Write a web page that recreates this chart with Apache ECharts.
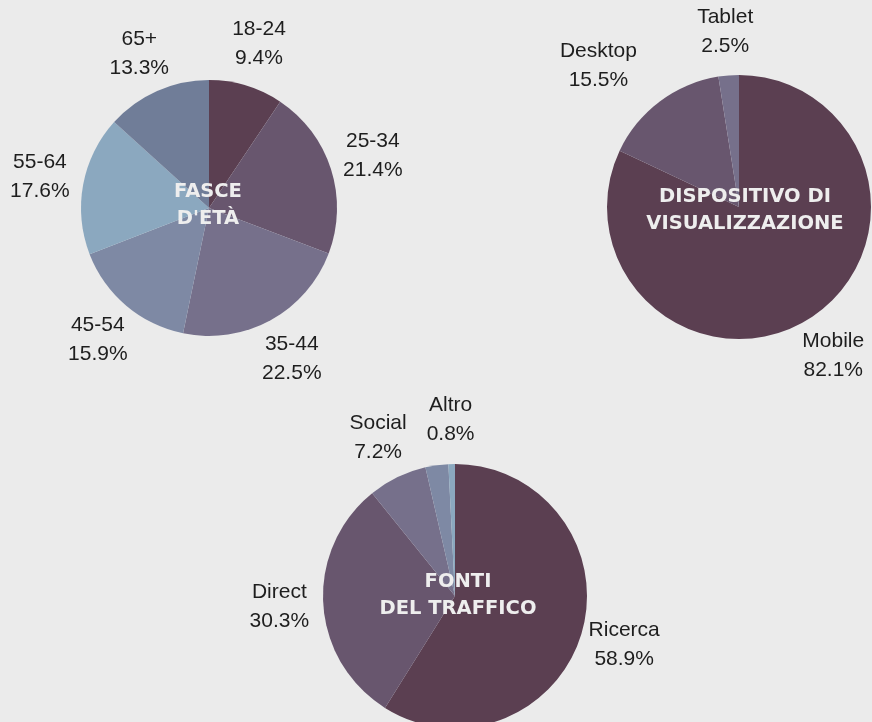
<!DOCTYPE html>
<html lang="it" style="height: 100%">
<head>
  <meta charset="utf-8">
</head>
<body style="height: 100%; margin: 0; background: #ebebeb">
  <div id="container" style="width: 872px; height: 722px"></div>

  <script type="text/javascript" src="https://fastly.jsdelivr.net/npm/echarts@6.0.0/dist/echarts.min.js"></script>
  <script type="text/javascript">
    // fasce d'età
    const ageNames = ['18-24', '25-34', '35-44', '45-54', '55-64', '65+'];
    const ageValues = [9.4, 21.4, 22.5, 15.9, 17.6, 13.3];
    // dispositivo
    const deviceNames = ['Mobile', 'Desktop', 'Tablet'];
    const deviceValues = [82.1, 15.5, 2.5];
    // fonti del traffico (la fetta senza etichetta non ha nome)
    const trafficNames = ['Ricerca', 'Direct', 'Social', '', 'Altro'];
    const trafficValues = [58.9, 30.3, 7.2, 2.8, 0.8];

    const palette = ['#5b3f51', '#68566e', '#76708b', '#7e89a4', '#8ba8bf', '#707d98'];

    // spostamento manuale di qualche etichetta
    const labelShift = { Desktop: [-35, 0], '65+': [0, 3] };

    function buildData(names, values) {
      return names.map(function (n, i) {
        return {
          name: n,
          value: values[i],
          itemStyle: { color: palette[i] },
          label: { show: n !== '' },
          labelLine: { show: n !== '' }
        };
      });
    }

    function pieSeries(names, values, center, radius) {
      return {
        type: 'pie',
        center: center,
        radius: radius,
        startAngle: 90,
        clockwise: true,
        avoidLabelOverlap: false,
        silent: true,
        data: buildData(names, values),
        label: {
          position: 'outside',
          formatter: '{b}\n{c}%',
          fontFamily: 'Liberation Sans, Arial, sans-serif',
          fontSize: 21,
          lineHeight: 29,
          color: '#1e1e1e'
        },
        labelLine: {
          show: true,
          length: 44,
          length2: 0,
          lineStyle: { opacity: 0 }
        },
        labelLayout: function (params) {
          const pts = params.labelLinePoints;
          if (!pts) return {};
          const p = pts[1];
          const name = (params.text || '').split('\n')[0];
          const s = labelShift[name] || [0, 0];
          return {
            x: p[0] + s[0],
            y: p[1] + s[1],
            align: 'center',
            verticalAlign: 'middle'
          };
        }
      };
    }

    const centerFont = {
      fontFamily: 'DejaVu Sans, sans-serif',
      fontWeight: 'bold',
      fontSize: 19.5,
      lineHeight: 27,
      fill: '#eeeeee',
      textAlign: 'center',
      textVerticalAlign: 'middle'
    };

    var dom = document.getElementById('container');
    var myChart = echarts.init(dom, null, { renderer: 'canvas' });

    var option = {
      backgroundColor: '#ebebeb',
      animation: false,
      series: [
        pieSeries(ageNames, ageValues, [209, 208], 128),
        pieSeries(deviceNames, deviceValues, [739, 207], 132),
        pieSeries(trafficNames, trafficValues, [455, 596], 132)
      ],
      graphic: [
        { type: 'text', x: 208, y: 205, z: 100,
          style: Object.assign({ text: 'FASCE\nD\'ETÀ' }, centerFont) },
        { type: 'text', x: 745, y: 210, z: 100,
          style: Object.assign({ text: 'DISPOSITIVO DI\nVISUALIZZAZIONE' }, centerFont) },
        { type: 'text', x: 458, y: 595, z: 100,
          style: Object.assign({ text: 'FONTI\nDEL TRAFFICO' }, centerFont) }
      ]
    };

    myChart.setOption(option);
    window.addEventListener('resize', myChart.resize);
  </script>
</body>
</html>
